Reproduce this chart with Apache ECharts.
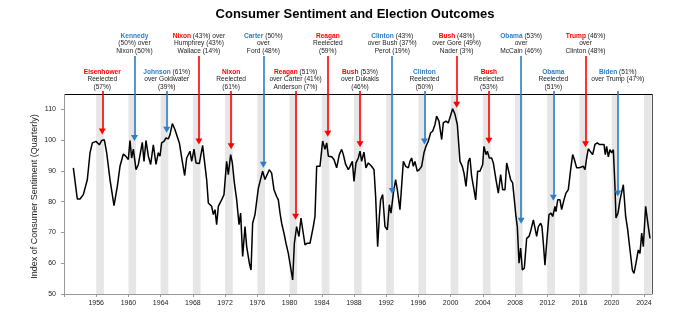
<!DOCTYPE html>
<html><head><meta charset="utf-8">
<script src="https://cdn.jsdelivr.net/npm/echarts@6/dist/echarts.min.js"></script>
<style>html,body{margin:0;padding:0;background:#fff}#c{width:700px;height:333px}</style>
</head><body><div id="c"></div>
<script>
// ---- data ----
const years = [
1953.16,1953.65,1953.99,1954.40,1954.90,1955.23,1955.52,1955.97,1956.39,1956.68,1957.01,1957.30,1957.71,1958.21,1958.62,1958.95,1959.37,1959.66,1959.99,1960.19,1960.40,1960.61,1960.94,1961.23,1961.44,1961.72,1961.93,1962.18,1962.47,1962.76,1963.09,1963.42,1963.71,1963.92,1964.12,1964.41,1964.66,1964.95,1965.16,1965.45,1965.78,1965.99,1966.32,1966.65,1966.98,1967.23,1967.64,1967.85,1968.14,1968.39,1968.80,1968.97,1969.21,
1969.71,1969.92,1970.33,1970.54,1970.75,1970.95,1971.16,1971.57,1971.86,1971.99,1972.19,1972.40,1972.69,1972.90,1973.15,1973.44,1973.73,1973.93,1974.18,1974.47,1974.68,1975.01,1975.22,1975.42,1975.71,1975.92,1976.13,1976.33,1976.66,1976.95,1977.16,1977.49,1977.78,1978.07,1978.40,1978.61,1978.82,1979.02,1979.31,1979.56,1979.85,1980.06,1980.39,1980.60,1980.88,1981.17,1981.42,1981.63,1981.92,1982.21,1982.54,1982.95,1983.16,1983.37,1983.78,1984.11,1984.40,1984.61,1984.82,1985.23,1985.52,1985.85,1986.18,1986.47,1986.68,1986.97,1987.30,1987.51,1987.80,1988.00,1988.25,1988.54,
1988.75,1988.95,1989.24,1989.49,1989.78,1990.19,1990.49,1990.69,1990.94,1991.15,1991.31,1991.56,1991.85,1992.14,1992.39,1992.60,1992.89,1993.17,1993.38,1993.71,1994.13,1994.42,1994.75,1994.95,1995.16,1995.37,1995.57,1995.86,1996.11,1996.40,1996.69,1996.94,1997.23,1997.52,1997.77,1998.06,1998.26,1998.55,1998.89,1999.09,1999.42,1999.71,1999.92,2000.25,2000.54,2000.83,2001.16,2001.45,2001.66,2001.91,2002.20,2002.40,2002.61,2002.90,2003.11,2003.35,2003.64,2003.98,2004.14,
2004.39,2004.56,2004.80,2005.09,2005.30,2005.63,2005.92,2006.21,2006.46,2006.75,2006.96,2007.16,2007.45,2007.70,2007.91,2008.11,2008.28,2008.49,2008.69,2008.90,2009.15,2009.44,2009.73,2009.98,2010.27,2010.47,2010.68,2010.89,2011.18,2011.34,2011.51,2011.71,2011.92,2012.21,2012.46,2012.67,2012.96,2013.08,2013.29,2013.58,2013.78,2014.07,2014.32,2014.61,2014.90,2015.15,2015.36,2015.65,2015.94,2016.18,2016.47,2016.68,2016.89,2017.09,2017.30,2017.63,2017.92,2018.21,2018.46,2018.75,2019.04,2019.20,2019.37,2019.58,2019.78,2019.99,2020.20,2020.40,2020.53,2020.78,2021.03,2021.23,2021.44,2021.73,2021.98,2022.27,2022.56,2022.76,2023.01,2023.30,2023.51,2023.72,2023.92,2024.21,2024.54,2024.75
];
const sentiment = [
91.0,80.9,80.9,82.3,87.2,95.9,99.1,99.6,98.5,99.9,100.1,95.9,87.2,78.7,85.0,91.5,95.5,94.8,93.7,99.9,94.2,97.1,90.4,92.1,92.6,99.3,93.1,99.9,94.8,92.1,98.5,92.1,95.9,94.8,99.1,99.6,100.7,100.4,101.8,105.4,103.4,102.9,99.1,93.7,88.5,94.2,96.4,93.1,97.1,92.6,92.4,92.1,98.3,
87.2,79.6,78.5,75.8,77.4,72.5,78.5,80.6,82.3,82.3,93.1,88.8,95.3,92.6,86.1,80.6,72.5,76.3,62.2,71.9,65.4,60.0,57.8,73.0,75.8,75.8,84.4,83.9,89.9,87.2,87.7,90.4,89.3,83.9,81.7,80.6,76.3,73.0,69.8,66.5,63.2,63.8,54.6,66.5,71.9,68.7,74.7,75.2,66.0,66.5,66.5,71.9,75.2,91.5,91.5,99.7,97.0,99.1,94.8,94.6,93.7,91.0,95.3,97.0,95.3,92.1,90.4,91.5,93.1,86.6,92.6,94.2,
96.4,93.1,96.1,91.0,92.6,91.5,90.4,81.7,65.4,75.2,80.6,82.3,71.9,70.9,79.0,76.3,82.8,87.2,83.9,77.4,93.1,91.5,91.0,93.1,94.2,91.5,93.1,89.9,90.4,91.5,95.9,98.0,99.7,102.4,102.9,105.1,107.8,106.2,100.2,105.6,106.2,105.6,105.4,110.2,108.4,105.1,93.1,91.5,89.3,85.0,93.1,94.2,88.2,83.9,80.6,89.9,89.9,92.1,98.0,
95.3,96.4,94.2,94.2,92.6,87.2,82.8,88.8,83.9,83.9,92.6,92.1,87.2,86.1,80.6,75.2,71.9,60.0,64.9,57.8,58.4,68.1,68.7,70.9,74.1,74.1,68.7,71.9,73.0,71.9,66.5,59.4,66.5,75.8,76.3,75.2,78.5,76.8,80.6,80.6,77.4,80.6,82.8,83.9,90.4,95.3,93.7,91.0,91.0,91.5,91.5,90.4,94.2,97.2,96.9,95.3,98.6,99.1,98.6,98.6,98.6,95.3,98.0,94.6,96.9,95.9,96.9,85.0,74.7,76.3,80.6,81.2,85.5,75.2,70.9,64.3,57.8,56.7,60.0,64.3,63.2,69.8,65.4,78.5,71.9,68.1
];
const tickYears = [1952,1956,1960,1964,1968,1972,1976,1980,1984,1988,1992,1996,2000,2004,2008,2012,2016,2020,2024];
const labelYears = [1956,1960,1964,1968,1972,1976,1980,1984,1988,1992,1996,2000,2004,2008,2012,2016,2020,2024];
const yTicks = [50,60,70,80,90,100,110];
const bandYears = [1956,1960,1964,1968,1972,1976,1980,1984,1988,1992,1996,2000,2004,2008,2012,2016,2020,2024];
const electionYears = [1956,1960,1964,1968,1972,1976,1980,1984,1988,1992,1996,2000,2004,2008,2012,2016,2020];
const winnerParty = ['R','D','D','R','R','D','R','R','R','D','D','R','R','D','D','R','D'];
const winners = ['Eisenhower','Kennedy','Johnson','Nixon','Nixon','Carter','Reagan','Reagan','Bush','Clinton','Clinton','Bush','Bush','Obama','Obama','Trump','Biden'];
const resultNotes = [
  '\nReelected\n(57%)',
  '\n(50%) over\nNixon (50%)',
  ' (61%)\nover Goldwater\n(39%)',
  ' (43%) over\nHumphrey (43%)\nWallace (14%)',
  '\nReelected\n(61%)',
  ' (50%)\nover\nFord (48%)',
  ' (51%)\nover Carter (41%)\nAnderson (7%)',
  '\nReelected\n(59%)',
  ' (53%)\nover Dukakis\n(46%)',
  ' (43%)\nover Bush (37%)\nPerot (19%)',
  '\nReelected\n(50%)',
  ' (48%)\nover Gore (49%)\nNader (3%)',
  '\nReelected\n(53%)',
  ' (53%)\nover\nMcCain (46%)',
  '\nReelected\n(51%)',
  ' (46%)\nover\nClinton (48%)',
  ' (51%)\nover Trump (47%)'
];
const arrowTips = [101.8,99.7,102.4,98.6,97.0,91.0,74.1,101.1,97.7,82.5,98.6,110.5,98.8,72.8,80.3,97.7,81.7];

// ---- layout / style constants ----
const X_MIN = 1952, X_MAX = 2025;
const Y_MIN = 50, Y_FRAME = 115, Y_MAX = 136.45;
const ARROW_OFFSET = 0.75;     // election falls late in the year
const BAND_WIDTH = 0.95;
const UPPER_LINE_START = 127.35, LOWER_LINE_START = 116.0;
const UPPER_TEXT_TOP = 135.1, LOWER_TEXT_TOP = 123.4;
const RED = '#ff0000', BLUE = '#2e7dc6';
const FONT = "'Liberation Sans', Arial, sans-serif";

const lineData = years.map((y, i) => [y, sentiment[i]]);

const bands = bandYears.map(y => [
  { coord: [y, Y_MIN] },
  { coord: [Math.min(y + BAND_WIDTH, X_MAX), Y_FRAME] }
]);

function arrowsFor(party) {
  const out = [];
  electionYears.forEach((y, i) => {
    if (winnerParty[i] !== party) return;
    const start = (y % 8 === 0) ? UPPER_LINE_START : LOWER_LINE_START;
    out.push([{ coord: [y + ARROW_OFFSET, start] }, { coord: [y + ARROW_OFFSET, arrowTips[i] + 1.0] }]);
  });
  return out;
}

const notes = electionYears.map((y, i) => ({
  name: '{' + (winnerParty[i] === 'R' ? 'r' : 'b') + '|' + winners[i] + '}' + resultNotes[i],
  coord: [y + ARROW_OFFSET, (y % 8 === 0) ? UPPER_TEXT_TOP : LOWER_TEXT_TOP]
}));

const frame = [
  [{ coord: [X_MIN, Y_FRAME], lineStyle: { color: '#000', width: 1, type: 'solid' } }, { coord: [X_MAX, Y_FRAME] }],
  [{ coord: [X_MAX, Y_MIN], lineStyle: { color: '#555', width: 1, type: 'solid' } }, { coord: [X_MAX, Y_FRAME] }],
  [{ coord: [X_MIN, Y_MIN], lineStyle: { color: '#999', width: 1, type: 'solid' } }, { coord: [X_MIN, Y_FRAME] }]
];

const TS = 6.6, LH = 7.6;
const chart = echarts.init(document.getElementById('c'), null, { renderer: 'canvas' });
chart.setOption({
  animation: false,
  backgroundColor: '#fff',
  title: {
    text: 'Consumer Sentiment and Election Outcomes',
    left: 355, top: 8, padding: 0, textAlign: 'center',
    textStyle: { fontFamily: FONT, fontSize: 13, fontWeight: 'bold', color: '#000' }
  },
  grid: { left: 64, right: 48, top: 28, bottom: 39, containLabel: false },
  xAxis: {
    type: 'value', min: X_MIN, max: X_MAX,
    splitLine: { show: false },
    axisLine: { show: true, lineStyle: { color: '#999', width: 1 } },
    axisTick: { show: true, length: 3, lineStyle: { color: '#999' }, customValues: tickYears },
    axisLabel: { customValues: labelYears, margin: 6, fontFamily: FONT, fontSize: 7, color: '#222',
      formatter: v => String(v) }
  },
  yAxis: {
    type: 'value', min: Y_MIN, max: Y_MAX,
    splitLine: { show: false },
    axisLine: { show: false },
    axisTick: { show: true, length: 3, lineStyle: { color: '#999' }, customValues: yTicks },
    axisLabel: { customValues: yTicks, margin: 8, fontFamily: FONT, fontSize: 7, color: '#222' }
  },
  graphic: [{
    type: 'text', x: 35, y: 196.5, rotation: Math.PI / 2,
    style: { text: 'Index of Consumer Sentiment (Quarterly)', fontFamily: FONT, fontSize: 9,
      fill: '#222', align: 'center', verticalAlign: 'middle' }
  }],
  series: [
    {
      type: 'line', data: [], z: 1, silent: true,
      markArea: { silent: true, itemStyle: { color: '#e6e6e6' }, data: bands },
      markLine: { silent: true, symbol: 'none', label: { show: false },
        lineStyle: { type: 'solid', width: 1 }, data: frame }
    },
    {
      type: 'line', data: lineData, z: 3, showSymbol: false, symbol: 'none',
      lineStyle: { color: '#000', width: 1.5 }, silent: true
    },
    {
      type: 'line', data: [], z: 4, silent: true,
      markLine: { silent: true, symbol: ['none', 'triangle'], symbolSize: [7, 6],
        label: { show: false }, lineStyle: { color: RED, width: 1.6, type: 'solid' },
        data: arrowsFor('R') }
    },
    {
      type: 'line', data: [], z: 4, silent: true,
      markLine: { silent: true, symbol: ['none', 'triangle'], symbolSize: [7, 6],
        label: { show: false }, lineStyle: { color: BLUE, width: 1.6, type: 'solid' },
        data: arrowsFor('D') }
    },
    {
      type: 'line', data: [], z: 5, silent: true,
      markPoint: {
        silent: true, symbol: 'rect', symbolSize: 1, itemStyle: { color: 'rgba(0,0,0,0)' },
        label: {
          show: true, position: 'inside', align: 'center', verticalAlign: 'top',
          formatter: p => p.name,
          fontFamily: FONT, fontSize: TS, lineHeight: LH, color: '#222',
          rich: {
            r: { color: RED, fontWeight: 'bold', fontFamily: FONT, fontSize: TS, lineHeight: LH },
            b: { color: BLUE, fontWeight: 'bold', fontFamily: FONT, fontSize: TS, lineHeight: LH }
          }
        },
        data: notes
      }
    }
  ]
});
</script></body></html>
